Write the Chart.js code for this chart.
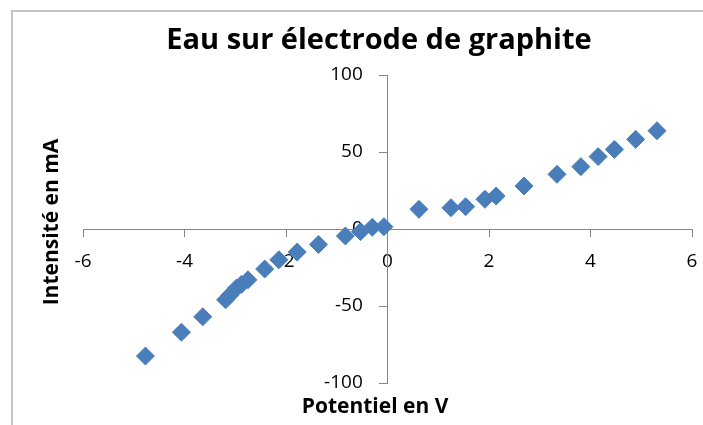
<!DOCTYPE html>
<html>
<head>
<meta charset="utf-8">
<script src="https://cdn.jsdelivr.net/npm/chart.js@4"></script>
<style>
  body { margin: 0; background: #fff; }
  #wrap { position: relative; width: 703px; height: 425px; overflow: hidden; }
  #frame { position: absolute; left: 11px; top: 10px; width: 760px; height: 480px; border: 2px solid #c4c4c4; }
  #myChart { position: absolute; left: 0; top: 0; }
</style>
</head>
<body>
<div id="wrap">
  <div id="frame"></div>
  <canvas id="myChart" width="703" height="425"></canvas>
</div>
<script>
'use strict';

// data

let potentiel = [-4.77, -4.06, -3.64, -3.19, -3.11, -2.98, -2.88, -2.75, -2.42, -2.14, -1.78, -1.36, -0.83, -0.53, -0.30, -0.07,
  0.62, 1.25, 1.54, 1.92, 2.14, 2.69, 3.34, 3.81, 4.15, 4.47, 4.89, 5.31];
let intensite = [-82.5, -67, -57, -46, -43, -38.5, -36, -33, -26, -20, -15, -10, -4.5, -1.7, 1.1, 1.5,
  12.8, 13.8, 14.5, 19.3, 21.4, 27.9, 35.5, 40.5, 47, 51.7, 58.2, 63.8];

let xTicks = [-6, -4, -2, 0, 2, 4, 6];
let yTicks = [-100, -50, 0, 50, 100];

let chartTitle = 'Eau sur électrode de graphite';
let xTitle = 'Potentiel en V';
let yTitle = 'Intensité en mA';

let fontFamily = '"Open Sans", Lato, sans-serif';
let axisGray = '#868686';

// build points

let points = [];
for (let i = 0; i < potentiel.length; i++) {
  points.push({ x: potentiel[i], y: intensite[i] });
}

// titles are drawn by hand because the axes sit in the middle

let chartTexts = {
  id: 'chartTexts',
  afterDraw(chart) {
    let ctx = chart.ctx;
    let area = chart.chartArea;
    ctx.save();
    ctx.fillStyle = '#000';
    ctx.textAlign = 'center';
    ctx.textBaseline = 'middle';
    ctx.font = 'bold 29px ' + fontFamily;
    ctx.fillText(chartTitle, 379, 41);
    ctx.font = 'bold 21px ' + fontFamily;
    ctx.fillText(xTitle, 375, area.bottom + 24);
    ctx.translate(52, 222);
    ctx.rotate(-Math.PI / 2);
    ctx.fillText(yTitle, 0, 0);
    ctx.restore();
  }
};

const ctx = document.getElementById('myChart');
const config = {
  type: 'scatter',
  data: {
    datasets: [
      {
        label: 'Intensité',
        data: points,
        pointStyle: 'rectRot',
        pointRadius: 9,
        pointHoverRadius: 9,
        backgroundColor: '#4a7ebb',
        borderColor: '#4a7ebb',
        borderWidth: 1
      }
    ]
  },
  options: {
    responsive: false,
    animation: false,
    devicePixelRatio: 1,
    layout: {
      padding: { left: 83, right: 11, top: 75, bottom: 42 }
    },
    plugins: {
      legend: { display: false },
      tooltip: { enabled: false },
      title: { display: false }
    },
    scales: {
      x: {
        type: 'linear',
        min: xTicks[0],
        max: xTicks[xTicks.length - 1],
        position: { y: 0 },
        afterBuildTicks: (axis) => { axis.ticks = xTicks.map(v => ({ value: v })); },
        afterFit: (axis) => {
          axis.height = 0;
          axis.paddingLeft = 0;
          axis.paddingRight = 0;
        },
        ticks: {
          color: '#000',
          padding: 14,
          font: { family: fontFamily, size: 19 }
        },
        grid: { drawOnChartArea: false, drawTicks: true, tickLength: 7, color: axisGray },
        border: { color: axisGray, width: 1 }
      },
      y: {
        type: 'linear',
        min: yTicks[0],
        max: yTicks[yTicks.length - 1],
        position: { x: 0 },
        afterBuildTicks: (axis) => { axis.ticks = yTicks.map(v => ({ value: v })); },
        afterFit: (axis) => {
          axis.width = 0;
          axis.paddingTop = 0;
          axis.paddingBottom = 0;
        },
        ticks: {
          color: '#000',
          font: { family: fontFamily, size: 19 },
          // centred axis ignores padding, so push the labels left with spaces
          callback: (value) => value + '     '
        },
        grid: { drawOnChartArea: false, drawTicks: true, tickLength: 8, color: axisGray },
        border: { color: axisGray, width: 1 }
      }
    }
  },
  plugins: [chartTexts]
};
new Chart(ctx, config);
</script>
</body>
</html>
